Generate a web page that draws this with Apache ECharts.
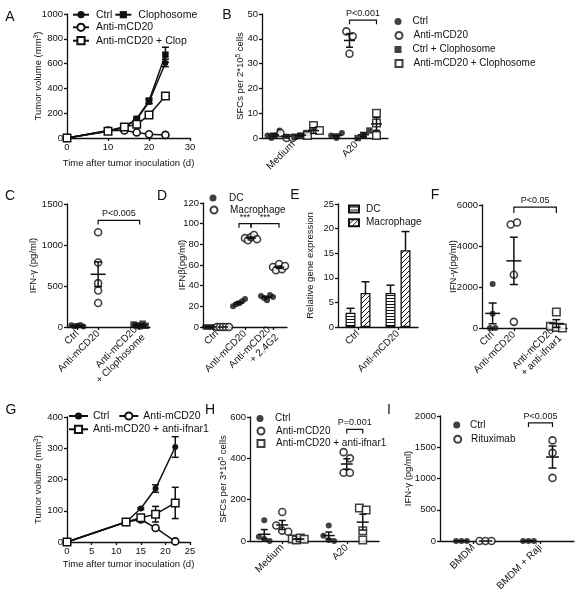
<!DOCTYPE html>
<html><head><meta charset="utf-8">
<script src="https://cdn.jsdelivr.net/npm/echarts@6/dist/echarts.min.js"></script>
<style>html,body{margin:0;padding:0;background:#fff}#c{width:578px;height:601px}</style>
</head><body><div id="c"></div>
<script>
// ================= DATA =================
// Panel A: tumor growth
const aDays = [0, 10, 14, 17, 20, 24];
const aCtrl = [0, 55, 85, 150, 290, 605];
const aCtrlErr = [0, 5, 8, 10, 15, 30];
const aClop = [0, 58, 90, 155, 300, 672];
const aClopErr = [0, 5, 8, 10, 20, 60];
const aAnti = [0, 60, 60, 45, 30, 25];
const aAntiErr = [0, 5, 5, 5, 5, 4];
const aAntiClop = [0, 55, 88, 110, 185, 338];
const aAntiClopErr = [0, 5, 8, 10, 12, 15];
// Panel B: ELISPOT
const bGroups = ['Medium', 'A20'];
const bCtrl = [[1, 0, 1, 3], [1, 0, 2]];
const bAnti = [[2, 0, 0], [43, 41, 34]];
const bCtrlClop = [[0.5, 1, 2], [0, 1, 3]];
const bAntiClop = [[1, 5, 3], [10, 6, 1]];
// Panel C: IFN-gamma
const cCats = ['Ctrl', 'Anti-mCD20', 'Anti-mCD20\n+ Clophosome'];
const cCtrl = [20, 10, 15, 25, 5];
const cAnti = [1155, 786, 535, 446, 292];
const cAntiClop = [30, 20, 10, 40, 15];
// Panel D: IFN-beta
const dCats = ['Ctrl', 'Anti-mCD20', 'Anti-mCD20\n+ 2.4G2'];
const dDC = [[0, 0, 0, 0, 0], [20, 22, 23, 25, 27], [30, 28, 26, 31, 29]];
const dMac = [[0, 0, 0, 0, 0], [86, 84, 87, 89, 85], [58, 55, 61, 56, 59]];
// Panel E: relative gene expression
const eCats = ['Ctrl', 'Anti-mCD20'];
const eDC = [2.9, 6.9];
const eDCErr = [0.9, 1.6];
const eMac = [6.9, 15.6];
const eMacErr = [2.3, 3.8];
// Panel F: IFN-gamma
const fCats = ['Ctrl', 'Anti-mCD20', 'Anti-mCD20\n+ anti-ifnar1'];
const fCtrl = [2150, 700, 0, 0];
const fAnti = [5050, 5150, 2600, 300];
const fAntiIfnar = [780, 80, 20, 0];
// Panel G: tumor growth
const gDays = [0, 12, 15, 18, 22];
const gCtrl = [0, 64, 107, 171, 304];
const gCtrlErr = [0, 3, 3, 12, 33];
const gAnti = [0, 64, 72, 45, 2];
const gAntiErr = [0, 3, 4, 3, 2];
const gAntiIfnar = [0, 64, 78, 89, 125];
const gAntiIfnarErr = [0, 3, 5, 25, 50];
// Panel H: ELISPOT
const hGroups = ['Medium', 'A20'];
const hCtrl = [[100, 20, 10, 0], [75, 25, 5, 0]];
const hAnti = [[140, 75, 50, 45], [430, 400, 330, 330]];
const hAntiIfnar = [[10, 5, 15, 8], [160, 150, 50, 5]];
// Panel I: IFN-gamma human
const iGroups = ['BMDM', 'BMDM + Raji'];
const iCtrl = [[0, 0, 0], [0, 0, 0]];
const iRitux = [[0, 0, 0], [1610, 1410, 1010]];

// ================= BUILD =================
const INK = '#111';
const FONT = '"Liberation Sans", Arial, sans-serif';
const grids = [
  {left: 67, top: 14, width: 123, height: 124},   // A
  {left: 262, top: 14, width: 126, height: 124},  // B
  {left: 67, top: 204, width: 83, height: 123},   // C
  {left: 203, top: 203, width: 84, height: 124},  // D
  {left: 338, top: 204, width: 80, height: 123},  // E
  {left: 482, top: 205, width: 85, height: 123},  // F
  {left: 67, top: 417, width: 123, height: 125},  // G
  {left: 250, top: 417, width: 129, height: 124}, // H
  {left: 440, top: 416, width: 134, height: 125}  // I
];
const xAxes = [], yAxes = [], series = [], legends = [];
const AL = {color: INK, width: 1.3};
const plain = v => String(v);

function yAx(gi, max, interval, name, gap) {
  yAxes.push({type: 'value', gridIndex: gi, min: 0, max, interval, name,
    nameLocation: 'middle', nameGap: gap, nameRotate: 90, nameMoveOverlap: false,
    nameTextStyle: {fontSize: 9.5, color: INK, fontFamily: FONT,
      rich: {sup: {fontSize: 6.5, verticalAlign: 'top', fontFamily: FONT, color: INK}}},
    axisLine: {show: true, onZero: false, lineStyle: AL},
    axisTick: {show: true, length: 3, lineStyle: AL},
    axisLabel: {fontSize: 9.5, color: INK, fontFamily: FONT, margin: 4, formatter: plain},
    splitLine: {show: false}});
}
function xVal(gi, max, interval, name, gap) {
  xAxes.push({type: 'value', gridIndex: gi, min: 0, max, interval, name,
    nameLocation: 'middle', nameGap: gap, nameMoveOverlap: false,
    nameTextStyle: {fontSize: 9.5, color: INK, fontFamily: FONT},
    axisLine: {show: true, onZero: false, lineStyle: AL},
    axisTick: {show: true, length: 3, lineStyle: AL},
    axisLabel: {fontSize: 9.5, color: INK, fontFamily: FONT, margin: 4, formatter: plain},
    splitLine: {show: false}});
}
function xCat(gi, cats, tickInt) {
  xAxes.push({type: 'category', gridIndex: gi, data: cats, boundaryGap: true,
    axisLine: {show: true, onZero: false, lineStyle: AL},
    axisTick: {show: true, alignWithLabel: true, length: 3, interval: tickInt || 0, lineStyle: AL},
    axisLabel: {rotate: 45, interval: 0, fontSize: 10, color: INK, fontFamily: FONT, margin: 5, lineHeight: 11},
    splitLine: {show: false}});
}
// spacer layout for uneven category spacing (C, F)
function spaced(cats) { return [cats[0], cats[1], '', cats[2]]; }
const spacedIdx = [0, 1, 3];
const skipBlank = (i, v) => v !== '';

const ST = {
  fc: {symbol: 'circle', size: 6, item: {color: INK}},
  oc: {symbol: 'circle', size: 7, item: {color: '#fff', borderColor: INK, borderWidth: 1.6}},
  fs: {symbol: 'rect', size: 6.5, item: {color: INK}},
  os: {symbol: 'rect', size: 7.5, item: {color: '#fff', borderColor: INK, borderWidth: 1.5}}
};
const mean = a => a.reduce((s, v) => s + v, 0) / a.length;
const sem = a => { if (a.length < 2) return 0; const m = mean(a);
  return Math.sqrt(a.reduce((s, v) => s + (v - m) * (v - m), 0) / (a.length - 1) / a.length); };

function swarm(vals, ppu, size) {
  const off = vals.map(() => 0);
  const idx = vals.map((v, i) => i).sort((p, q) => vals[p] - vals[q]);
  let cl = [idx[0]];
  const flush = () => {
    const n = cl.length; if (n < 2) return;
    const sp = Math.min(size * 0.9, 12 / (n - 1));
    cl.slice().sort((p, q) => p - q).forEach((k, j) => { off[k] = (j - (n - 1) / 2) * sp; });
  };
  for (let j = 1; j < idx.length; j++) {
    if ((vals[idx[j]] - vals[idx[j - 1]]) * ppu < size) cl.push(idx[j]);
    else { flush(); cl = [idx[j]]; }
  }
  flush();
  return off;
}
const line = (x1, y1, x2, y2) => ({type: 'line', shape: {x1, y1, x2, y2}, style: {stroke: INK, lineWidth: 1.5}});

function addDots(gi, name, byCat, catIdx, dx, st, meanW, capW) {
  const ppu = grids[gi].height / yAxes[gi].max;
  const data = [], rows = [];
  byCat.forEach((vals, ci) => {
    const offs = swarm(vals, ppu, st.size);
    vals.forEach((v, k) => data.push({value: [catIdx[ci], v], symbolOffset: [dx + offs[k], 0]}));
    rows.push([catIdx[ci], mean(vals), sem(vals)]);
  });
  series.push({type: 'scatter', name, xAxisIndex: gi, yAxisIndex: gi, data, clip: false,
    symbol: st.symbol, symbolSize: st.size, itemStyle: st.item, z: 3});
  series.push({type: 'custom', xAxisIndex: gi, yAxisIndex: gi, silent: true, clip: false, z: 4, data: rows,
    renderItem: (p, api) => {
      const x = api.value(0), m = api.value(1), s = api.value(2);
      const c = api.coord([x, m]), t = api.coord([x, m + s]), b = api.coord([x, Math.max(0, m - s)]);
      const cx = c[0] + dx;
      const kids = [line(cx - meanW / 2, c[1], cx + meanW / 2, c[1])];
      if (s > 0) kids.push(line(cx, t[1], cx, b[1]), line(cx - capW / 2, t[1], cx + capW / 2, t[1]),
        line(cx - capW / 2, b[1], cx + capW / 2, b[1]));
      return {type: 'group', children: kids};
    }});
}
function addLine(gi, name, xs, ys, errs, st) {
  series.push({type: 'line', name, xAxisIndex: gi, yAxisIndex: gi, data: xs.map((x, i) => [x, ys[i]]),
    symbol: st.symbol, symbolSize: st.size, showAllSymbol: true, itemStyle: st.item,
    lineStyle: {color: INK, width: 1.5}, clip: false, z: 3});
  series.push({type: 'custom', xAxisIndex: gi, yAxisIndex: gi, silent: true, clip: false, z: 2,
    data: xs.map((x, i) => [x, ys[i], errs[i]]),
    renderItem: (p, api) => {
      const x = api.value(0), v = api.value(1), e = api.value(2);
      if (!(e > 0)) return {type: 'group', children: []};
      const t = api.coord([x, v + e]), b = api.coord([x, Math.max(0, v - e)]);
      return {type: 'group', children: [line(t[0], t[1], b[0], b[1]),
        line(t[0] - 3.5, t[1], t[0] + 3.5, t[1]), line(b[0] - 3.5, b[1], b[0] + 3.5, b[1])]};
    }});
}
function addBracket(gi, x1, dx1, x2, dx2, yv, label, tip) {
  series.push({type: 'custom', xAxisIndex: gi, yAxisIndex: gi, silent: true, clip: false, z: 5,
    data: [[x1, yv, x2]],
    renderItem: (p, api) => {
      const a = api.coord([api.value(0), api.value(1)]);
      const b = api.coord([api.value(2), api.value(1)]);
      const xa = a[0] + dx1, xb = b[0] + dx2, y = a[1];
      return {type: 'group', children: [
        {type: 'polyline', shape: {points: [[xa, y + tip], [xa, y], [xb, y], [xb, y + tip]]},
          style: {stroke: INK, lineWidth: 1.2, fill: null}},
        {type: 'text', style: {text: label, x: (xa + xb) / 2, y: y - 2, align: 'center', verticalAlign: 'bottom',
          fontSize: 9, fontFamily: FONT, fill: INK}}]};
    }});
}
function addLegend(x, ycs, rows, o) {
  rows.forEach((r, i) => legends.push({
    left: x, top: ycs[i] - 6, orient: 'horizontal', padding: 0, itemGap: o.gap || 0,
    itemWidth: o.w, itemHeight: o.h, icon: o.icon, data: Array.isArray(r) ? r : [r],
    formatter: nm => nm.split('#')[0], selectedMode: false,
    textStyle: {fontSize: o.fs || 10, color: INK, fontFamily: FONT, lineHeight: 12, padding: [0, 0, 0, o.tp || 0]}
  }));
}
function pattern(kind) {
  const c = document.createElement('canvas');
  const g = c.getContext('2d');
  if (kind === 'h') {
    c.width = 4; c.height = 3;
    g.fillStyle = '#fff'; g.fillRect(0, 0, 4, 3);
    g.fillStyle = INK; g.fillRect(0, 1, 4, 1);
  } else {
    c.width = 5; c.height = 5;
    g.fillStyle = '#fff'; g.fillRect(0, 0, 5, 5);
    g.strokeStyle = INK; g.lineWidth = 1;
    g.beginPath(); g.moveTo(-1, 6); g.lineTo(6, -1); g.moveTo(-1, 1); g.lineTo(1, -1); g.moveTo(4, 6); g.lineTo(6, 4); g.stroke();
  }
  return {image: c, repeat: 'repeat'};
}

// ---- A ----
xVal(0, 30, 10, 'Time after tumor inoculation (d)', 20);
yAx(0, 1000, 200, 'Tumor volume (mm{sup|3})', 24);
addLine(0, 'Ctrl#A', aDays, aCtrl, aCtrlErr, ST.fc);
addLine(0, 'Clophosome#A', aDays, aClop, aClopErr, ST.fs);
addLine(0, 'Anti-mCD20#A', aDays, aAnti, aAntiErr, ST.oc);
addLine(0, 'Anti-mCD20 + Clop#A', aDays, aAntiClop, aAntiClopErr, ST.os);
addLegend(72, [14.7, 27.3, 40.7], [['Ctrl#A', 'Clophosome#A'], 'Anti-mCD20#A', 'Anti-mCD20 + Clop#A'],
  {w: 16, h: 9, gap: 2, tp: 2, fs: 10.5});

// ---- B ----
xCat(1, bGroups);
yAx(1, 50, 10, 'SFCs per 2*10{sup|5} cells', 17);
addDots(1, 'Ctrl#B', bCtrl, [0, 1], -20, ST.fc, 11, 7);
addDots(1, 'Anti-mCD20#B', bAnti, [0, 1], -7, ST.oc, 11, 7);
addDots(1, 'Ctrl + Clophosome#B', bCtrlClop, [0, 1], 7, ST.fs, 11, 7);
addDots(1, 'Anti-mCD20 + Clophosome#B', bAntiClop, [0, 1], 20, ST.os, 11, 7);
addBracket(1, 1, -7, 1, 20, 47.5, 'P<0.001', 4);
addLegend(394.5, [21.5, 35.5, 49.5, 63.5], ['Ctrl#B', 'Anti-mCD20#B', 'Ctrl + Clophosome#B', 'Anti-mCD20 + Clophosome#B'],
  {w: 7, h: 7, tp: 6});

// ---- C ----
xCat(2, spaced(cCats), skipBlank);
yAx(2, 1500, 500, 'IFN-γ (pg/ml)', 29);
addDots(2, 'Ctrl#C', [cCtrl], [spacedIdx[0]], 0, ST.fc, 15, 8);
addDots(2, 'Anti-mCD20#C', [cAnti], [spacedIdx[1]], 0, ST.oc, 15, 8);
addDots(2, 'Anti-mCD20 + Clophosome#C', [cAntiClop], [spacedIdx[2]], 0, ST.fs, 15, 8);
addBracket(2, spacedIdx[1], 0, spacedIdx[2], 0, 1300, 'P<0.005', 4);

// ---- D ----
xCat(3, dCats);
yAx(3, 120, 20, 'IFNβ(pg/ml)', 16);
addDots(3, 'DC#D', dDC, [0, 1, 2], -6, ST.fc, 10, 6);
addDots(3, 'Macrophage#D', dMac, [0, 1, 2], 6, ST.oc, 10, 6);
addBracket(3, 1, -6, 1, 6, 100, '***', 4);
addBracket(3, 1, 6, 2, 6, 100, '***', 4);
addLegend(209.5, [198, 210], ['DC#D', 'Macrophage#D'], {w: 7, h: 7, tp: 7.5});

// ---- E ----
xCat(4, eCats);
yAx(4, 25, 5, 'Relative gene expression', 23);
const barStyle = pat => ({color: pattern(pat), borderColor: INK, borderWidth: 1.3});
series.push({type: 'bar', name: 'DC#E', xAxisIndex: 4, yAxisIndex: 4, data: eDC, barWidth: 10, barGap: '50%', itemStyle: barStyle('h'), z: 2});
series.push({type: 'bar', name: 'Macrophage#E', xAxisIndex: 4, yAxisIndex: 4, data: eMac, barWidth: 10, barGap: '50%', itemStyle: barStyle('d'), z: 2});
[[eDC, eDCErr, -7.5], [eMac, eMacErr, 7.5]].forEach(([vals, errs, dx]) => {
  series.push({type: 'custom', xAxisIndex: 4, yAxisIndex: 4, silent: true, clip: false, z: 3,
    data: vals.map((v, i) => [i, v, errs[i]]),
    renderItem: (p, api) => {
      const x = api.value(0), v = api.value(1), e = api.value(2);
      const a = api.coord([x, v]), t = api.coord([x, v + e]);
      const cx = a[0] + dx;
      return {type: 'group', children: [line(cx, a[1], cx, t[1]), line(cx - 4, t[1], cx + 4, t[1])]};
    }});
});
addLegend(348, [209, 222.7], ['DC#E', 'Macrophage#E'], {w: 10, h: 7, tp: 2, icon: 'rect'});

// ---- F ----
xCat(5, spaced(fCats), skipBlank);
yAx(5, 6000, 2000, 'IFN-γ(pg/ml)', 24);
addDots(5, 'Ctrl#F', [fCtrl], [spacedIdx[0]], 0, ST.fc, 15, 8);
addDots(5, 'Anti-mCD20#F', [fAnti], [spacedIdx[1]], 0, ST.oc, 15, 8);
addDots(5, 'Anti-mCD20 + anti-ifnar1#F', [fAntiIfnar], [spacedIdx[2]], 0, ST.os, 15, 8);
addBracket(5, spacedIdx[1], 0, spacedIdx[2], 0, 5900, 'P<0.05', 6);

// ---- G ----
xVal(6, 25, 5, 'Time after tumor inoculation (d)', 17);
yAx(6, 400, 100, 'Tumor volume (mm{sup|3})', 24);
addLine(6, 'Ctrl#G', gDays, gCtrl, gCtrlErr, ST.fc);
addLine(6, 'Anti-mCD20#G', gDays, gAnti, gAntiErr, ST.oc);
addLine(6, 'Anti-mCD20 + anti-ifnar1#G', gDays, gAntiIfnar, gAntiIfnarErr, ST.os);
addLegend(68, [416, 429.3], [['Ctrl#G', 'Anti-mCD20#G'], 'Anti-mCD20 + anti-ifnar1#G'], {w: 19, h: 9, gap: 9, fs: 10.5});

// ---- H ----
xCat(7, hGroups);
yAx(7, 600, 200, 'SFCs per 3*10{sup|5} cells', 22);
addDots(7, 'Ctrl#H', hCtrl, [0, 1], -18, ST.fc, 12, 7);
addDots(7, 'Anti-mCD20#H', hAnti, [0, 1], 0, ST.oc, 12, 7);
addDots(7, 'Anti-mCD20 + anti-ifnar1#H', hAntiIfnar, [0, 1], 16, ST.os, 12, 7);
addBracket(7, 1, 0, 1, 16, 540, 'P=0.001', 4);
addLegend(256.5, [418.5, 431, 443.5], ['Ctrl#H', 'Anti-mCD20#H', 'Anti-mCD20 + anti-ifnar1#H'], {w: 7, h: 7, tp: 6.5});

// ---- I ----
xCat(8, iGroups);
yAx(8, 2000, 500, 'IFN-γ (pg/ml)', 27);
addDots(8, 'Ctrl#I', iCtrl, [0, 1], -12, ST.fc, 13, 8);
addDots(8, 'Rituximab#I', iRitux, [0, 1], 12, ST.oc, 13, 8);
addBracket(8, 1, -12, 1, 12, 1890, 'P<0.005', 4);
addLegend(453.2, [425, 439.3], ['Ctrl#I', 'Rituximab#I'], {w: 7, h: 7, tp: 4.8});

// panel letters
const letters = [['A', 10, 17], ['B', 227, 15], ['C', 10, 196], ['D', 162, 196], ['E', 295, 195],
  ['F', 435, 195], ['G', 11, 410], ['H', 210, 410], ['I', 389, 410]];
const graphic = letters.map(([t, x, y]) => ({type: 'text', x, y, silent: true,
  style: {text: t, fontSize: 14, fontFamily: FONT, fill: INK, align: 'center', verticalAlign: 'middle',
    textAlign: 'center', textVerticalAlign: 'middle'}}));

const chart = echarts.init(document.getElementById('c'), null, {renderer: 'canvas'});
chart.setOption({
  animation: false, backgroundColor: '#fff',
  grid: grids.map(g => Object.assign({containLabel: false}, g)),
  xAxis: xAxes, yAxis: yAxes, series, legend: legends, graphic
});
</script>
</body></html>
